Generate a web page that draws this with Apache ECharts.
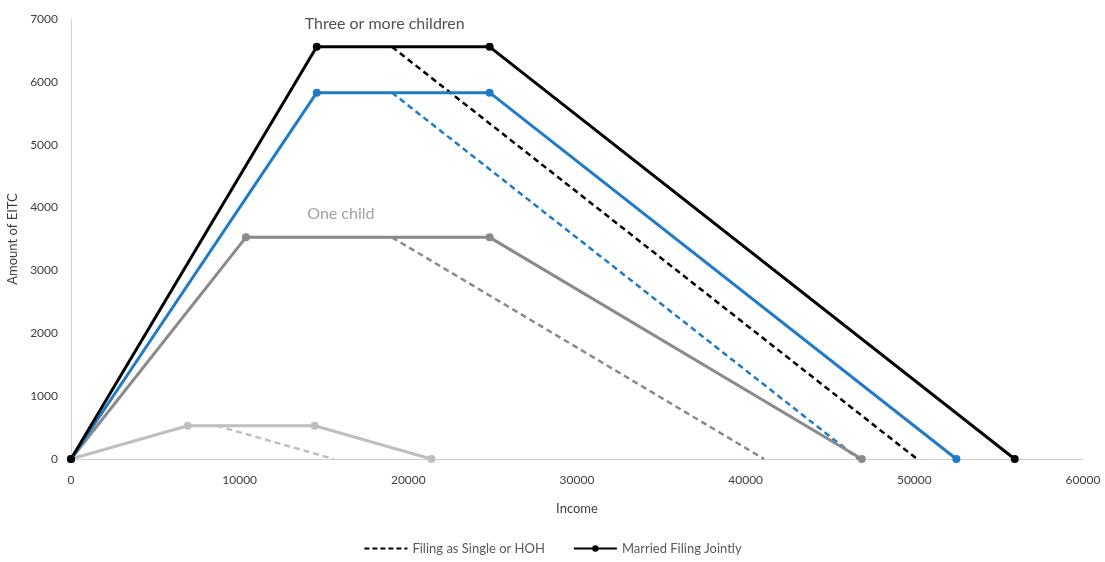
<!DOCTYPE html>
<html>
<head>
<meta charset="utf-8">
<script src="https://cdn.jsdelivr.net/npm/echarts@6/dist/echarts.min.js"></script>
<style>html,body{margin:0;padding:0;background:#fff}#c{width:1105px;height:562px}</style>
</head>
<body>
<div id="c"></div>
<script>
// Data (income, EITC amount)
const xTicks = [0, 10000, 20000, 30000, 40000, 50000, 60000];
const yTicks = [0, 1000, 2000, 3000, 4000, 5000, 6000, 7000];

const noneMarriedIncome = [0, 6920, 14450, 21370];
const noneMarriedEITC   = [0, 529, 529, 0];
const noneSingleIncome  = [8650, 15570];
const noneSingleEITC    = [529, 0];

const oneMarriedIncome = [0, 10370, 24820, 46884];
const oneMarriedEITC   = [0, 3526, 3526, 0];
const oneSingleIncome  = [19030, 41094];
const oneSingleEITC    = [3526, 0];

const twoMarriedIncome = [0, 14570, 24820, 52493];
const twoMarriedEITC   = [0, 5828, 5828, 0];
const twoSingleIncome  = [19030, 46703];
const twoSingleEITC    = [5828, 0];

const threeMarriedIncome = [0, 14570, 24820, 55952];
const threeMarriedEITC   = [0, 6557, 6557, 0];
const threeSingleIncome  = [19030, 50162];
const threeSingleEITC    = [6557, 0];

const legendNames = ['Filing as Single or HOH', 'Married Filing Jointly'];
const annotationThree = {text: 'Three or more children', income: 18600, eitc: 6920};
const annotationOne = {text: 'One child', income: 16000, eitc: 3900};

const zip = (xs, ys) => xs.map((x, i) => [x, ys[i]]);
const FONT = 'Lato, "Open Sans", sans-serif';

function married(name, xs, ys, color) {
  return {
    name: name, type: 'line', data: zip(xs, ys),
    symbol: 'circle', symbolSize: 8, showSymbol: true,
    lineStyle: {color: color, width: 3},
    itemStyle: {color: color},
    animation: false, z: 3
  };
}
function single(name, xs, ys, color) {
  return {
    name: name, type: 'line', data: zip(xs, ys),
    symbol: 'none', showSymbol: false,
    lineStyle: {color: color, width: 2.5, type: [6, 4]},
    itemStyle: {color: color},
    animation: false, z: 2
  };
}
const cNone = '#bfbfbf', cOne = '#8a8a8a', cTwo = '#1f7bc9', cThree = '#000000';

const series = [
  single('noneS', noneSingleIncome, noneSingleEITC, cNone),
  married('noneM', noneMarriedIncome, noneMarriedEITC, cNone),
  single('twoS', twoSingleIncome, twoSingleEITC, cTwo),
  single('oneS', oneSingleIncome, oneSingleEITC, cOne),
  married('oneM', oneMarriedIncome, oneMarriedEITC, cOne),
  single('threeS', threeSingleIncome, threeSingleEITC, cThree),
  married('twoM', twoMarriedIncome, twoMarriedEITC, cTwo),
  married('threeM', threeMarriedIncome, threeMarriedEITC, cThree),
  {
    name: 'annotations', type: 'scatter', symbolSize: 0, silent: true,
    data: [
      {value: [annotationThree.income, annotationThree.eitc], label: {formatter: annotationThree.text, color: '#262626'}},
      {value: [annotationOne.income, annotationOne.eitc], label: {formatter: annotationOne.text, color: '#8a8a8a'}}
    ],
    label: {show: true, position: 'inside', fontSize: 16, fontFamily: FONT},
    animation: false
  },
  {
    name: legendNames[0], type: 'line', data: [], symbol: 'none',
    lineStyle: {color: '#000', width: 3, type: [5, 3]}, itemStyle: {color: '#000', opacity: 0}
  },
  {
    name: legendNames[1], type: 'line', data: [], symbol: 'circle', symbolSize: 7,
    lineStyle: {color: '#000', width: 3}, itemStyle: {color: '#000'}
  }
];

const chart = echarts.init(document.getElementById('c'));
chart.setOption({
  backgroundColor: '#fff',
  animation: false,
  grid: {left: 71, right: 22, top: 19, bottom: 103, containLabel: false, outerBoundsMode: 'none'},
  legend: {
    data: legendNames.map(n => ({name: n})),
    bottom: 2, left: 'center',
    itemWidth: 43, itemHeight: 8, itemGap: 28,
    textStyle: {fontSize: 13, color: '#595959', fontFamily: FONT}
  },
  xAxis: {
    type: 'value', min: xTicks[0], max: xTicks[xTicks.length - 1], interval: 10000,
    name: 'Income', nameLocation: 'middle', nameGap: 43,
    nameTextStyle: {fontSize: 13, color: '#404040', fontFamily: FONT},
    axisLine: {show: true, lineStyle: {color: '#d0d0d0', width: 1}},
    axisTick: {show: false},
    splitLine: {show: false},
    axisLabel: {fontSize: 12, color: '#404040', margin: 15, fontFamily: FONT, formatter: v => String(v)}
  },
  yAxis: {
    type: 'value', min: yTicks[0], max: yTicks[yTicks.length - 1], interval: 1000,
    name: 'Amount of EITC', nameLocation: 'middle', nameGap: 49, nameRotate: 90,
    nameTextStyle: {fontSize: 13, color: '#404040', fontFamily: FONT},
    axisLine: {show: true, lineStyle: {color: '#d0d0d0', width: 1}},
    axisTick: {show: false},
    splitLine: {show: false},
    axisLabel: {fontSize: 12, color: '#404040', margin: 13, fontFamily: FONT, formatter: v => String(v)}
  },
  series: series
});
</script>
</body>
</html>
